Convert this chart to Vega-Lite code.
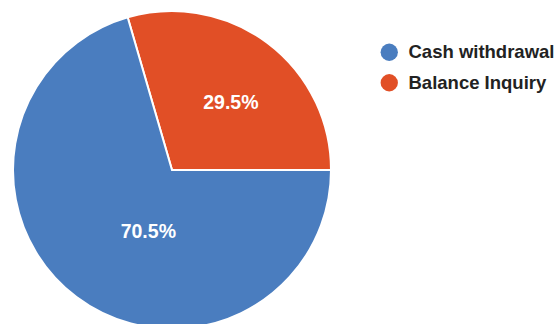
{
  "$schema": "https://vega.github.io/schema/vega-lite/v6.json",
  "width": 344,
  "height": 340,
  "padding": {"left": 0, "top": 0, "right": 215, "bottom": 0},
  "autosize": "none",
  "background": "white",
  "config": {"view": {"stroke": null}},
  "data": {"values": [
    {"category": "Balance Inquiry", "value": 29.5, "label": "29.5%"},
    {"category": "Cash withdrawal", "value": 70.5, "label": "70.5%"}
  ]},
  "encoding": {
    "theta": {"field": "value", "type": "quantitative", "stack": true, "scale": {"range": [-0.2827, 6.0005]}},
    "order": {"field": "value", "type": "quantitative", "sort": "ascending"}
  },
  "layer": [
    {
      "mark": {"type": "arc", "outerRadius": 159, "stroke": "white", "strokeWidth": 2},
      "encoding": {
        "color": {
          "field": "category", "type": "nominal",
          "scale": {"domain": ["Cash withdrawal", "Balance Inquiry"], "range": ["#4a7dbf", "#e14f26"]},
          "legend": {
            "title": null, "orient": "none", "legendX": 380, "legendY": 43,
            "symbolType": "circle", "symbolSize": 300, "symbolStrokeWidth": 0,
            "labelFont": "Liberation Sans", "labelFontSize": 18.5, "labelFontWeight": "bold",
            "labelColor": "#222222", "rowPadding": 11.5, "labelOffset": 10, "labelLimit": 300
          }
        }
      }
    },
    {
      "mark": {"type": "text", "radius": 66, "thetaOffset": -0.277, "font": "Liberation Sans", "fontSize": 19.5, "fontWeight": "bold", "fill": "white"},
      "encoding": {"text": {"condition": {"test": "datum.category === 'Cash withdrawal'", "field": "label"}, "value": ""}}
    },
    {
      "mark": {"type": "text", "radius": 89, "thetaOffset": 0.079, "font": "Liberation Sans", "fontSize": 19.5, "fontWeight": "bold", "fill": "white"},
      "encoding": {"text": {"condition": {"test": "datum.category === 'Balance Inquiry'", "field": "label"}, "value": ""}}
    }
  ]
}
